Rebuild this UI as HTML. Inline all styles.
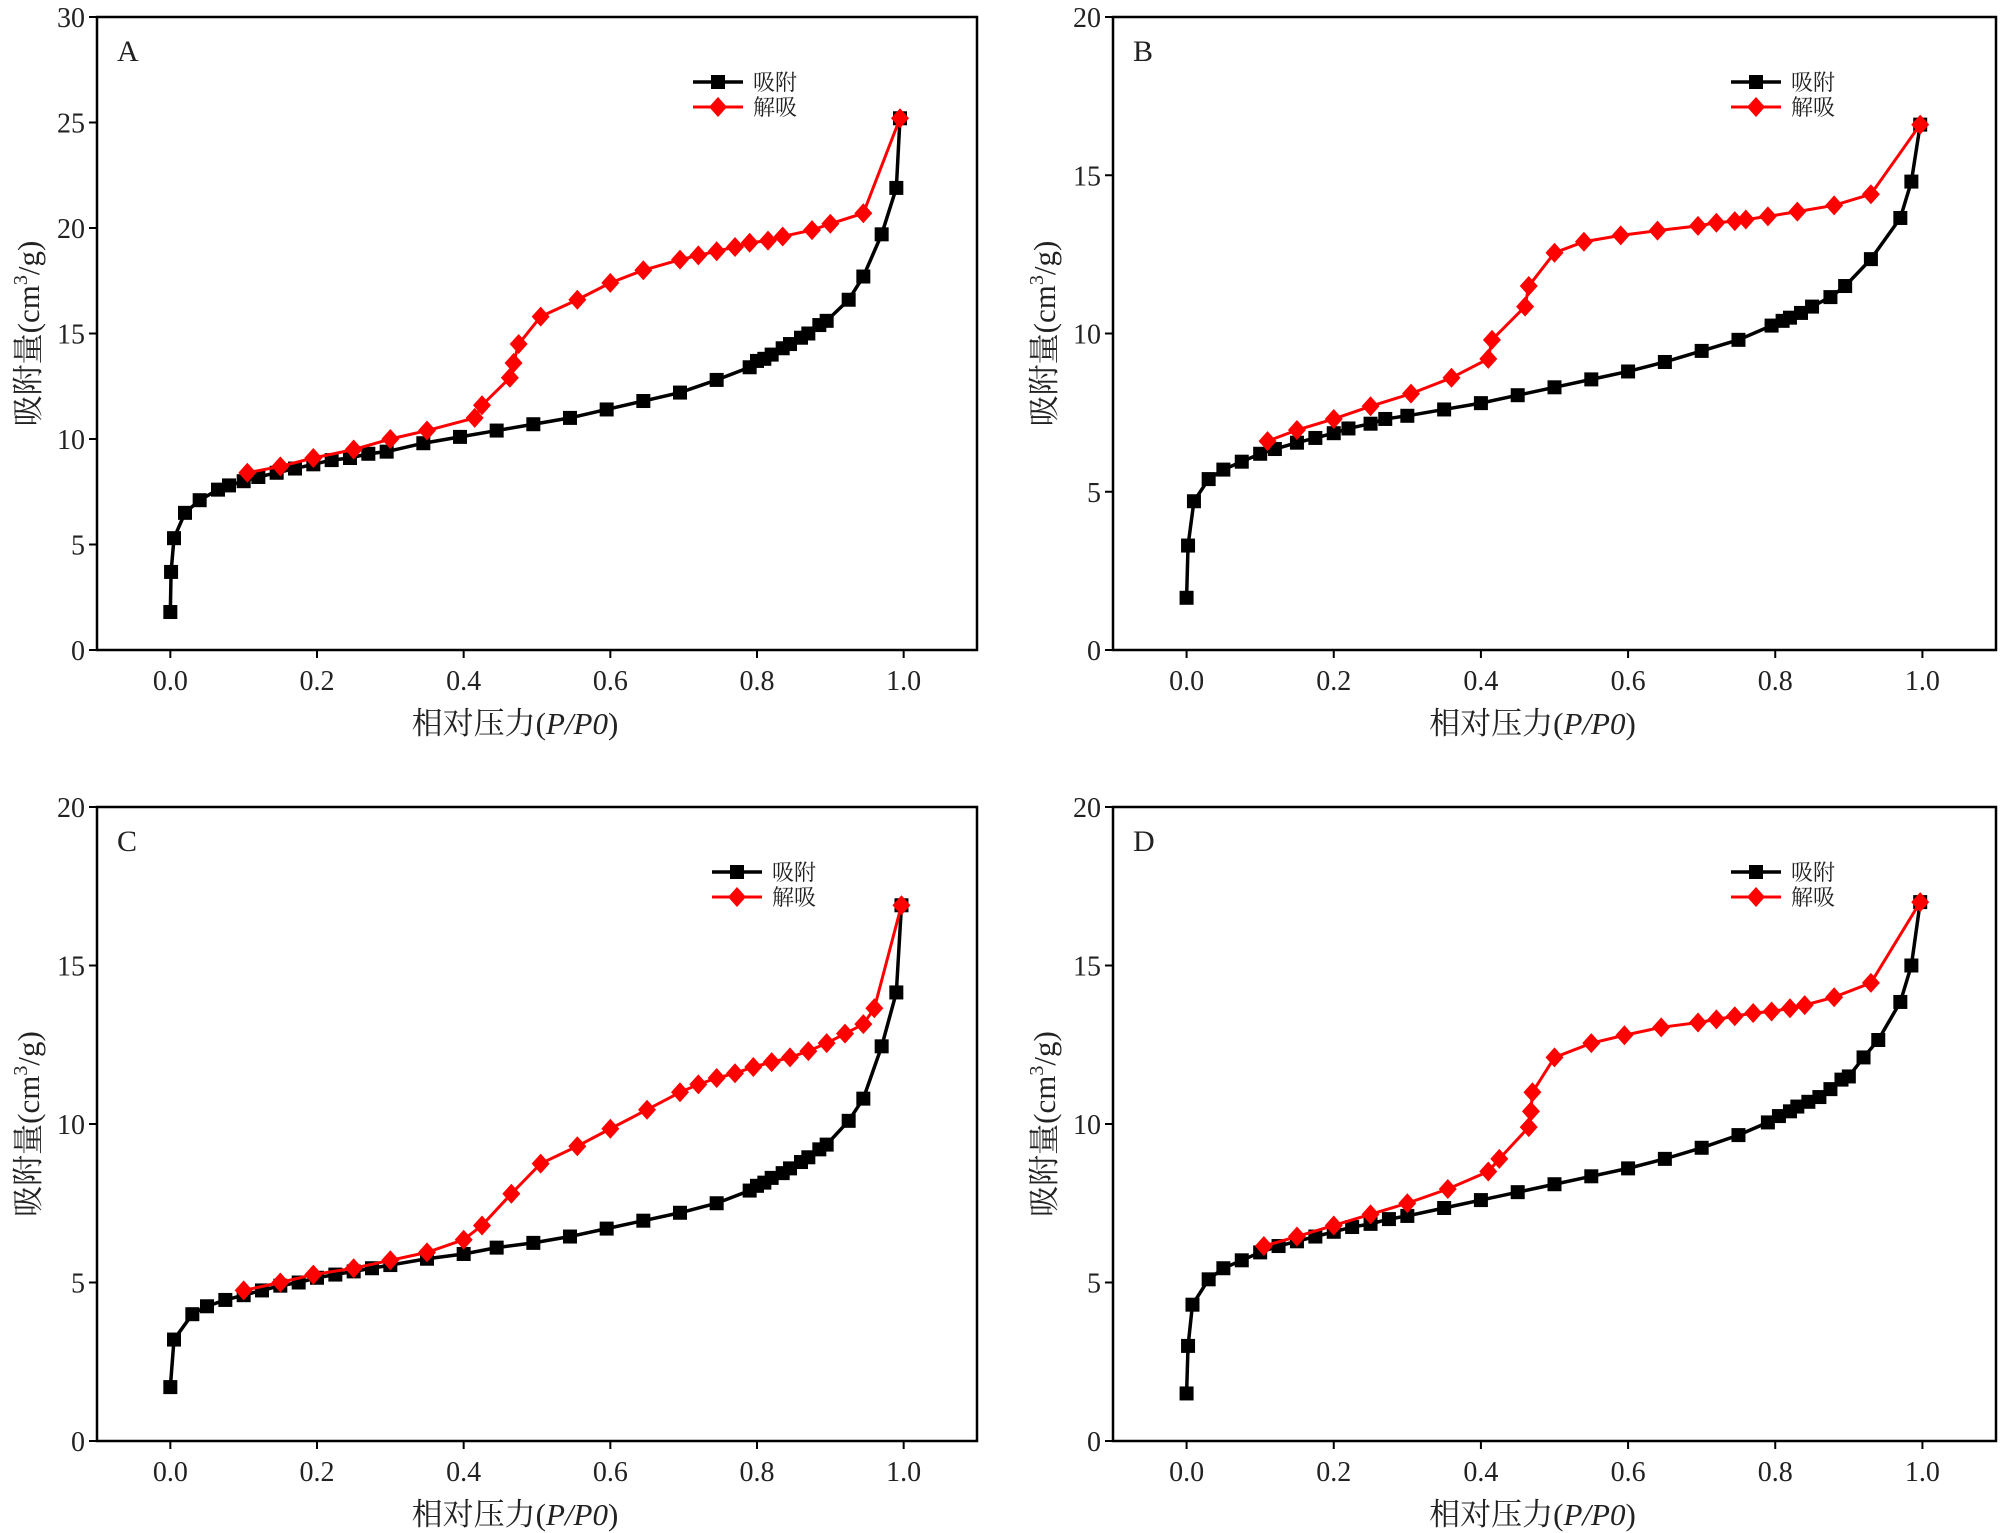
<!DOCTYPE html>
<html><head><meta charset="utf-8"><style>
html,body{margin:0;padding:0;background:#fff;}
svg{display:block;}
text{font-family:"Liberation Serif","Noto Serif CJK SC",serif;fill:#222;}
</style></head><body>
<svg id="chart" width="2000" height="1533" viewBox="0 0 2000 1533" xmlns="http://www.w3.org/2000/svg"></svg>
<script>
const panelLabels = ["A","B","C","D"];
const yMaxes = [30,20,20,20];
const xTicks = [0,0.2,0.4,0.6,0.8,1.0];
const xTickLabels = ["0.0","0.2","0.4","0.6","0.8","1.0"];
const adsAx = [0,0.001,0.005,0.02,0.04,0.065,0.08,0.1,0.12,0.145,0.17,0.195,0.22,0.245,0.27,0.295,0.345,0.395,0.445,0.495,0.545,0.595,0.645,0.695,0.745,0.79,0.8,0.81,0.82,0.835,0.845,0.86,0.87,0.885,0.895,0.925,0.945,0.97,0.99,0.995];
const adsAy = [1.8,3.7,5.3,6.5,7.1,7.6,7.8,8.0,8.2,8.4,8.6,8.8,9.0,9.1,9.3,9.4,9.8,10.1,10.4,10.7,11.0,11.4,11.8,12.2,12.8,13.4,13.7,13.8,14.0,14.3,14.5,14.8,15.0,15.4,15.6,16.6,17.7,19.7,21.9,25.2];
const desAx = [0.995,0.945,0.9,0.875,0.835,0.815,0.79,0.77,0.745,0.72,0.695,0.645,0.6,0.555,0.505,0.475,0.468,0.463,0.425,0.415,0.35,0.3,0.25,0.195,0.15,0.105];
const desAy = [25.2,20.7,20.2,19.9,19.6,19.4,19.3,19.1,18.9,18.7,18.5,18.0,17.4,16.6,15.8,14.5,13.6,12.9,11.6,11.0,10.4,10.0,9.5,9.1,8.7,8.4];
const adsBx = [0,0.002,0.01,0.03,0.05,0.075,0.1,0.12,0.15,0.175,0.2,0.22,0.25,0.27,0.3,0.35,0.4,0.45,0.5,0.55,0.6,0.65,0.7,0.75,0.795,0.81,0.82,0.835,0.85,0.875,0.895,0.93,0.97,0.985,0.997];
const adsBy = [1.65,3.3,4.7,5.4,5.7,5.95,6.2,6.35,6.55,6.7,6.85,7.0,7.15,7.3,7.4,7.6,7.8,8.05,8.3,8.55,8.8,9.1,9.45,9.8,10.25,10.4,10.5,10.65,10.85,11.15,11.5,12.35,13.65,14.8,16.6];
const desBx = [0.997,0.93,0.88,0.83,0.79,0.76,0.745,0.72,0.695,0.64,0.59,0.54,0.5,0.465,0.46,0.415,0.41,0.36,0.305,0.25,0.2,0.15,0.11];
const desBy = [16.6,14.4,14.05,13.85,13.7,13.6,13.55,13.5,13.4,13.25,13.1,12.9,12.55,11.5,10.85,9.8,9.2,8.6,8.1,7.7,7.3,6.95,6.6];
const adsCx = [0,0.005,0.03,0.05,0.075,0.1,0.125,0.15,0.175,0.2,0.225,0.25,0.275,0.3,0.35,0.4,0.445,0.495,0.545,0.595,0.645,0.695,0.745,0.79,0.8,0.81,0.82,0.835,0.845,0.86,0.87,0.885,0.895,0.925,0.945,0.97,0.99,0.997];
const adsCy = [1.7,3.2,4.0,4.25,4.45,4.6,4.75,4.9,5.0,5.15,5.25,5.35,5.45,5.55,5.75,5.9,6.1,6.25,6.45,6.7,6.95,7.2,7.5,7.9,8.05,8.15,8.3,8.45,8.6,8.8,8.95,9.2,9.35,10.1,10.8,12.45,14.15,16.9];
const desCx = [0.997,0.96,0.945,0.92,0.895,0.87,0.845,0.82,0.795,0.77,0.745,0.72,0.695,0.65,0.6,0.555,0.505,0.465,0.425,0.4,0.35,0.3,0.25,0.195,0.15,0.1];
const desCy = [16.9,13.65,13.15,12.85,12.55,12.3,12.1,11.95,11.8,11.6,11.45,11.25,11.0,10.45,9.85,9.3,8.75,7.8,6.8,6.35,5.95,5.7,5.45,5.25,5.0,4.75];
const adsDx = [0,0.002,0.008,0.03,0.05,0.075,0.1,0.125,0.15,0.175,0.2,0.225,0.25,0.275,0.3,0.35,0.4,0.45,0.5,0.55,0.6,0.65,0.7,0.75,0.79,0.805,0.82,0.83,0.845,0.86,0.875,0.89,0.9,0.92,0.94,0.97,0.985,0.997];
const adsDy = [1.5,3.0,4.3,5.1,5.45,5.7,5.95,6.15,6.3,6.45,6.6,6.75,6.85,7.0,7.1,7.35,7.6,7.85,8.1,8.35,8.6,8.9,9.25,9.65,10.05,10.25,10.4,10.55,10.7,10.85,11.1,11.4,11.5,12.1,12.65,13.85,15.0,17.0];
const desDx = [0.997,0.93,0.88,0.84,0.82,0.795,0.77,0.745,0.72,0.695,0.645,0.595,0.55,0.5,0.47,0.468,0.465,0.425,0.41,0.355,0.3,0.25,0.2,0.15,0.105];
const desDy = [17.0,14.45,14.0,13.75,13.65,13.55,13.5,13.4,13.3,13.2,13.05,12.8,12.55,12.1,11.0,10.4,9.9,8.9,8.5,7.95,7.5,7.15,6.8,6.45,6.15];

const series = [
  [adsAx,adsAy,desAx,desAy],[adsBx,adsBy,desBx,desBy],
  [adsCx,adsCy,desCx,desCy],[adsDx,adsDy,desDx,desDy]
];
const boxes = [
  {l:97,r:977,t:17,b:650,leg:693},
  {l:1113,r:1996,t:17,b:650,leg:1731},
  {l:97,r:977,t:807,b:1441,leg:712},
  {l:1113,r:1996,t:807,b:1441,leg:1731}
];
const NS="http://www.w3.org/2000/svg";
const svg=document.getElementById('chart');
function mk(tag,attrs,parent){const e=document.createElementNS(NS,tag);for(const k in attrs)e.setAttribute(k,attrs[k]);(parent||svg).appendChild(e);return e;}
function square(g,x,y,c){return mk('rect',{x:x-7,y:y-7,width:14,height:14,fill:c},g);}
function diamond(g,x,y,c){return mk('path',{d:`M${x} ${y-10}L${x+9} ${y}L${x} ${y+10}L${x-9} ${y}Z`,fill:c},g);}

boxes.forEach((bx,i)=>{
  const g=mk('g',{});
  
  
  const xs=v=>bx.l+(v+0.1)/1.2*(bx.r-bx.l);
  const ys=v=>bx.b-v/yMaxes[i]*(bx.b-bx.t);
  xTicks.forEach((t,k)=>{
    mk('line',{x1:xs(t),x2:xs(t),y1:bx.b,y2:bx.b+8,stroke:'#000','stroke-width':2},g);
    const tl=mk('text',{x:xs(t),y:bx.b+40,'font-size':28,'text-anchor':'middle'},g);
    tl.textContent=xTickLabels[k];
    
    
  });
  for(let v=0;v<=yMaxes[i];v+=5){
    mk('line',{x1:bx.l-8,x2:bx.l,y1:ys(v),y2:ys(v),stroke:'#000','stroke-width':2},g);
    const tl=mk('text',{x:bx.l-12,y:ys(v)+10,'font-size':28,'text-anchor':'end'},g);
    tl.textContent=String(v);
    
    
  }
  const fr=mk('rect',{x:bx.l,y:bx.t,width:bx.r-bx.l,height:bx.b-bx.t,fill:'none',stroke:'#000','stroke-width':2.5},g);
  
  
  const pl=mk('text',{x:bx.l+20,y:bx.t+44,'font-size':30},g);
  pl.textContent=panelLabels[i];
  
  
  const xt=mk('text',{x:(bx.l+bx.r)/2-22,y:bx.b+84,'font-size':31,'text-anchor':'middle'},g);
  xt.innerHTML='相对压力(<tspan font-style="italic">P/P0</tspan>)';
  
  
  const cy=(bx.t+bx.b)/2, cx=bx.l-58;
  const yt=mk('text',{x:cx,y:cy,'font-size':31,'text-anchor':'middle',transform:`rotate(-90 ${cx} ${cy})`},g);
  yt.innerHTML='吸附量(cm<tspan font-size="20" dy="-12">3</tspan><tspan dy="12">/g)</tspan>';
  
  
  const [ax,ay,dx,dy]=series[i];
  const ads=mk('g',{},g);
  
  
  mk('polyline',{points:ax.map((x,k)=>xs(x)+','+ys(ay[k])).join(' '),fill:'none',stroke:'#000','stroke-width':3.5},ads);
  ax.forEach((x,k)=>{const m=square(ads,xs(x),ys(ay[k]),'#000');
    
    });
  const des=mk('g',{},g);
  
  
  mk('polyline',{points:dx.map((x,k)=>xs(x)+','+ys(dy[k])).join(' '),fill:'none',stroke:'#f00','stroke-width':3},des);
  dx.forEach((x,k)=>{const m=diamond(des,xs(x),ys(dy[k]),'#f00');
    
    });
  const lg=mk('g',{},g);
  
  
  const L=bx.leg, y1=bx.t+65, y2=bx.t+90;
  mk('line',{x1:L,x2:L+50,y1:y1,y2:y1,stroke:'#000','stroke-width':3.5},lg);
  square(lg,L+25,y1,'#000');
  const t1=mk('text',{x:L+60,y:y1+8,'font-size':22},lg);t1.textContent='吸附';
  
  
  mk('line',{x1:L,x2:L+50,y1:y2,y2:y2,stroke:'#f00','stroke-width':3},lg);
  diamond(lg,L+25,y2,'#f00');
  const t2=mk('text',{x:L+60,y:y2+8,'font-size':22},lg);t2.textContent='解吸';
  
  
});
</script>
</body></html>
